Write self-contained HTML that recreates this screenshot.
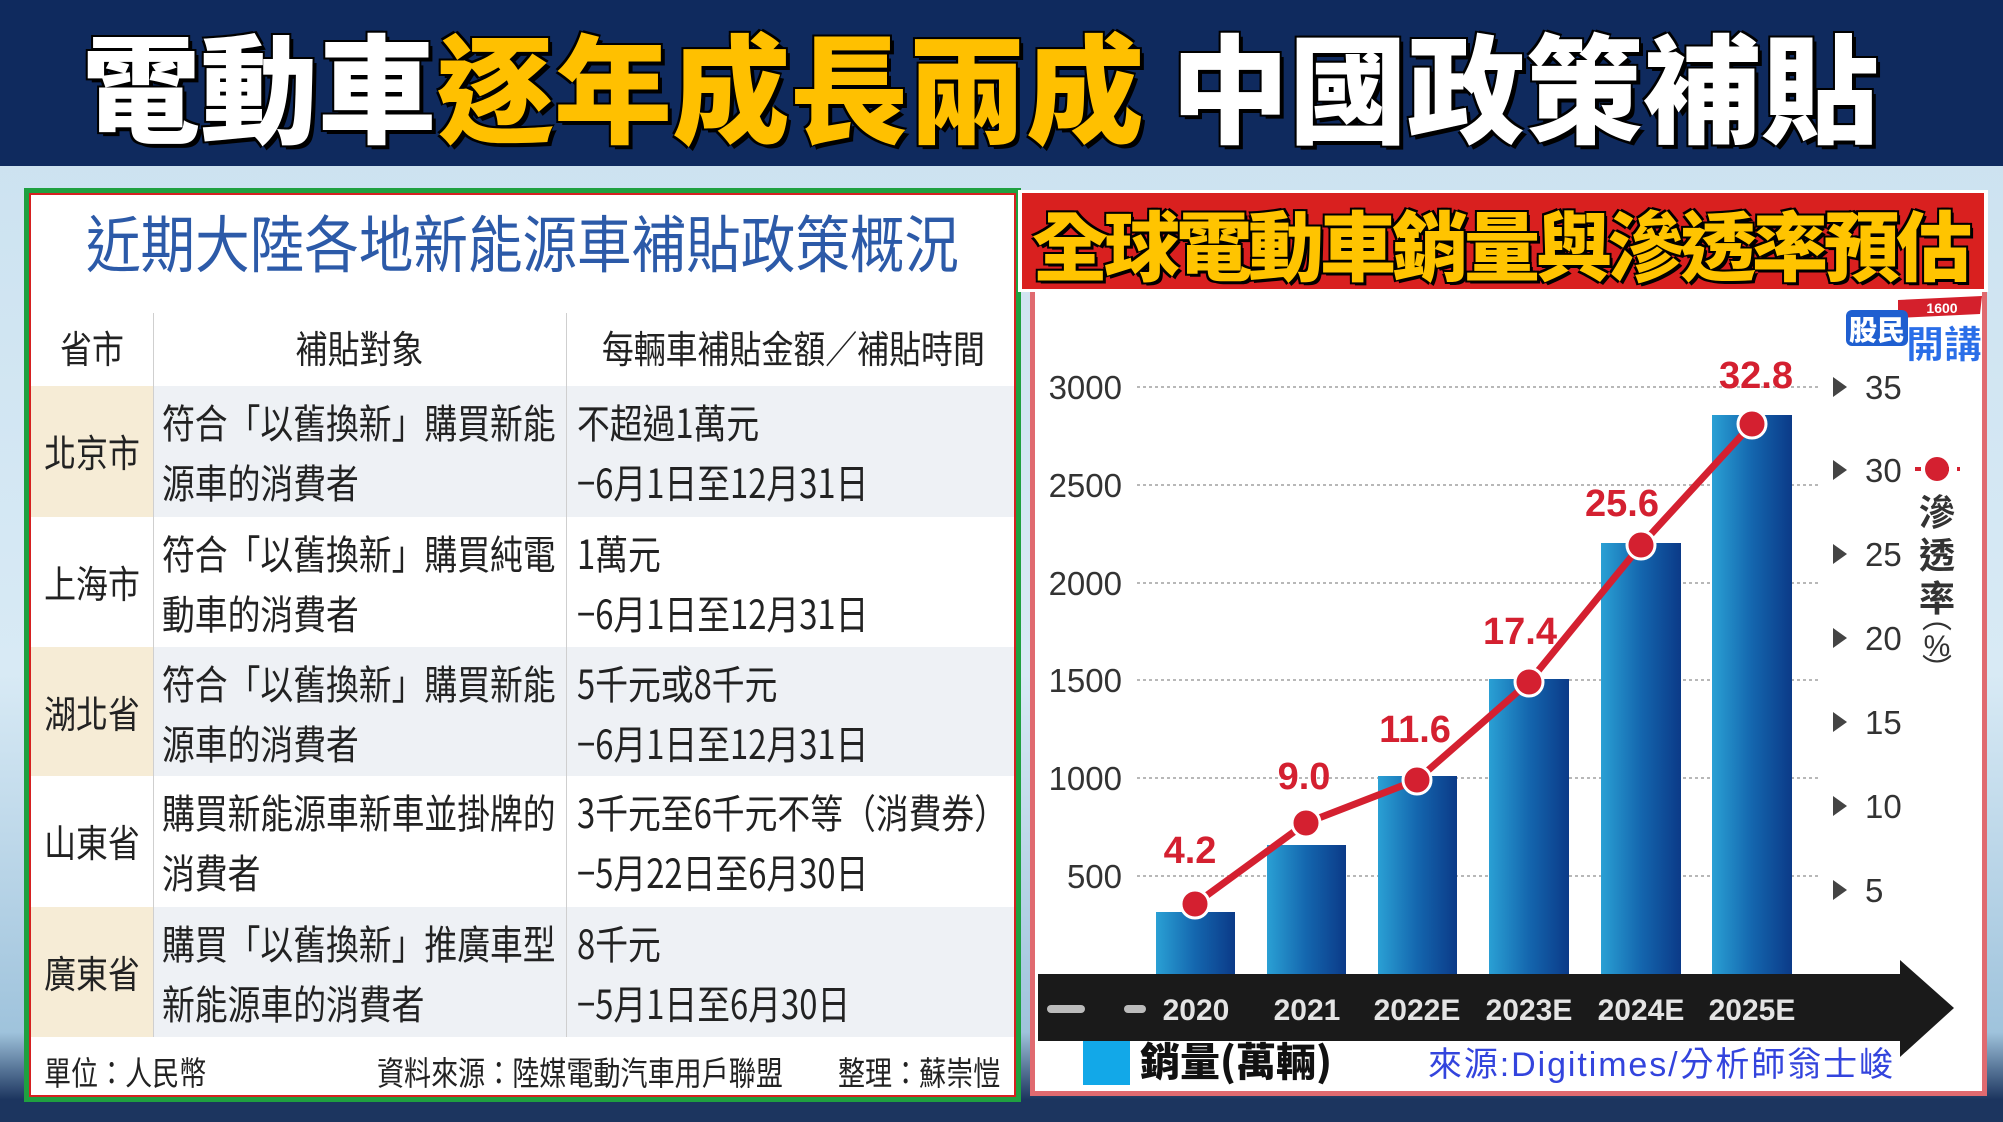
<!DOCTYPE html>
<html><head><meta charset="utf-8">
<style>
*{margin:0;padding:0;box-sizing:border-box}
body{width:2003px;height:1122px;overflow:hidden;position:relative;font-family:"Liberation Sans","Noto Sans CJK TC",sans-serif;background:linear-gradient(180deg,#c9e0ef 0%,#d8eaf5 60%,#9fc3dc 92%,#1c355f 98%);}
.a{position:absolute;white-space:nowrap}
.t{font-family:"Noto Sans CJK TC",sans-serif;color:#222;font-size:40px;line-height:40px;transform:scaleX(0.82);transform-origin:left center}
.c{font-family:"Noto Sans CJK TC",sans-serif;color:#222;font-size:38px;line-height:40px;transform:scaleX(0.84);transform-origin:center center;text-align:center}
</style></head><body>
<div class="a" style="left:0;top:0;width:2003px;height:166px;background:#0f2a5e"></div>
<div class="a" style="left:82px;top:8px;height:150px;font-family:'Noto Sans CJK TC',sans-serif;font-weight:900;font-size:118px;line-height:150px;letter-spacing:0px;text-shadow:4px 4px 0 #000,-2px -2px 0 #000,2px -2px 0 #000,-2px 2px 0 #000">
<span style="color:#fff">電動車</span><span style="color:#ffc000">逐年成長兩成</span><span style="color:#fff">&nbsp;中國政策補貼</span></div>

<div class="a" style="left:24px;top:188px;width:997px;height:914px;border:5px solid #1fa040;background:#fff"></div>
<div class="a" style="left:29px;top:193px;width:987px;height:904px;border:2px solid #d62020;background:#fff"></div>
<div class="a" style="left:86px;top:208px;font-family:'Noto Sans CJK TC',sans-serif;font-size:62px;line-height:64px;color:#2c5aa8;transform:scaleX(0.88);transform-origin:left center">近期大陸各地新能源車補貼政策概況</div>
<div class="a" style="left:31px;top:386px;width:983px;height:131px;background:#eef1f5"></div>
<div class="a" style="left:31px;top:647px;width:983px;height:129px;background:#eef1f5"></div>
<div class="a" style="left:31px;top:907px;width:983px;height:130px;background:#eef1f5"></div>
<div class="a" style="left:31px;top:386px;width:122px;height:131px;background:#f6ecd6"></div>
<div class="a" style="left:31px;top:647px;width:122px;height:129px;background:#f6ecd6"></div>
<div class="a" style="left:31px;top:907px;width:122px;height:130px;background:#f6ecd6"></div>
<div class="a" style="left:153px;top:313px;width:1px;height:724px;background:#cfcfcf"></div>
<div class="a" style="left:566px;top:313px;width:1px;height:724px;background:#cfcfcf"></div>
<div class="a c" style="left:31px;top:327px;width:122px">省市</div>
<div class="a c" style="left:153px;top:327px;width:413px">補貼對象</div>
<div class="a c" style="left:566px;top:327px;width:448px">每輛車補貼金額／補貼時間</div>

<div class="a c" style="left:31px;top:431px;width:122px">北京市</div>
<div class="a t" style="left:162px;top:401px">符合「以舊換新」購買新能</div>
<div class="a t" style="left:162px;top:461px">源車的消費者</div>
<div class="a t" style="left:577px;top:401px">不超過1萬元</div>
<div class="a t" style="left:577px;top:461px">−6月1日至12月31日</div>

<div class="a c" style="left:31px;top:562px;width:122px">上海市</div>
<div class="a t" style="left:162px;top:532px">符合「以舊換新」購買純電</div>
<div class="a t" style="left:162px;top:592px">動車的消費者</div>
<div class="a t" style="left:577px;top:532px">1萬元</div>
<div class="a t" style="left:577px;top:592px">−6月1日至12月31日</div>

<div class="a c" style="left:31px;top:692px;width:122px">湖北省</div>
<div class="a t" style="left:162px;top:662px">符合「以舊換新」購買新能</div>
<div class="a t" style="left:162px;top:722px">源車的消費者</div>
<div class="a t" style="left:577px;top:662px">5千元或8千元</div>
<div class="a t" style="left:577px;top:722px">−6月1日至12月31日</div>

<div class="a c" style="left:31px;top:821px;width:122px">山東省</div>
<div class="a t" style="left:162px;top:791px">購買新能源車新車並掛牌的</div>
<div class="a t" style="left:162px;top:851px">消費者</div>
<div class="a t" style="left:577px;top:791px">3千元至6千元不等（消費券）</div>
<div class="a t" style="left:577px;top:851px">−5月22日至6月30日</div>

<div class="a c" style="left:31px;top:952px;width:122px">廣東省</div>
<div class="a t" style="left:162px;top:922px">購買「以舊換新」推廣車型</div>
<div class="a t" style="left:162px;top:982px">新能源車的消費者</div>
<div class="a t" style="left:577px;top:922px">8千元</div>
<div class="a t" style="left:577px;top:982px">−5月1日至6月30日</div>
<div class="a t" style="left:44px;top:1054px;font-size:33px;line-height:34px">單位：人民幣</div>
<div class="a t" style="left:377px;top:1054px;font-size:33px;line-height:34px">資料來源：陸媒電動汽車用戶聯盟</div>
<div class="a t" style="left:838px;top:1054px;font-size:33px;line-height:34px">整理：蘇崇愷</div>

<div class="a" style="left:1030px;top:192px;width:957px;height:904px;border:5px solid #e06a70;background:#fff"></div>
<div class="a" style="left:1018px;top:190px;width:970px;height:102px;background:#fff"></div>
<div class="a" style="left:1022px;top:193px;width:962px;height:96px;background:#d9201f"></div>
<div class="a" style="left:1032px;top:200px;font-family:'Noto Sans CJK TC',sans-serif;font-weight:900;font-size:76px;line-height:84px;letter-spacing:-4px;color:#ffc400;text-shadow:3px 3px 0 #000,-2px -2px 0 #000,2px -2px 0 #000,-2px 2px 0 #000">全球電動車銷量與滲透率預估</div>

<svg class="a" style="left:0;top:0" width="2003" height="1122">
<defs>
<linearGradient id="bg" x1="0" x2="1" y1="0" y2="0"><stop offset="0" stop-color="#2aa0d4"/><stop offset="0.5" stop-color="#1466ae"/><stop offset="1" stop-color="#0b3a88"/></linearGradient>
</defs>
<!-- logo -->
<polygon points="1898,300 1982,296 1980,314 1898,318" fill="#d4202c"/>
<text x="1942" y="313" font-size="14" font-weight="bold" fill="#fff" text-anchor="middle" font-family="Liberation Sans">1600</text>
<rect x="1846" y="310" width="62" height="36" rx="6" fill="#1f5fd0"/>
<text x="1877" y="340" font-size="28" font-weight="900" fill="#fff" text-anchor="middle" font-family="Noto Sans CJK TC">股民</text>
<text x="1944" y="358" font-size="38" font-weight="900" fill="#2a6ee8" stroke="#fff" stroke-width="1" text-anchor="middle" font-family="Noto Sans CJK TC">開講</text>
<g stroke="#b8b8b8" stroke-width="2" stroke-dasharray="3,3">
<line x1="1137" x2="1820" y1="387" y2="387"/><line x1="1137" x2="1820" y1="485" y2="485"/>
<line x1="1137" x2="1820" y1="583" y2="583"/><line x1="1137" x2="1820" y1="680" y2="680"/>
<line x1="1137" x2="1820" y1="778" y2="778"/><line x1="1137" x2="1820" y1="876" y2="876"/>
</g>
<g font-family="Liberation Sans" font-size="33" fill="#333" text-anchor="end">
<text x="1122" y="399">3000</text><text x="1122" y="497">2500</text><text x="1122" y="595">2000</text>
<text x="1122" y="692">1500</text><text x="1122" y="790">1000</text><text x="1122" y="888">500</text>
</g>
<g fill="#444">
<polygon points="1833,377 1847,387 1833,397"/><polygon points="1833,460 1847,470 1833,480"/>
<polygon points="1833,544 1847,554 1833,564"/><polygon points="1833,628 1847,638 1833,648"/>
<polygon points="1833,712 1847,722 1833,732"/><polygon points="1833,796 1847,806 1833,816"/>
<polygon points="1833,880 1847,890 1833,900"/>
</g>
<g font-family="Liberation Sans" font-size="33" fill="#333">
<text x="1865" y="399">35</text><text x="1865" y="482">30</text><text x="1865" y="566">25</text>
<text x="1865" y="650">20</text><text x="1865" y="734">15</text><text x="1865" y="818">10</text>
<text x="1865" y="902">5</text>
</g>
<line x1="1915" x2="1960" y1="469" y2="469" stroke="#d42030" stroke-width="4" stroke-dasharray="6,8"/>
<circle cx="1937" cy="469" r="12" fill="#d42030"/>
<g font-family="Noto Sans CJK TC" font-weight="bold" font-size="36" fill="#333" text-anchor="middle">
<text x="1937" y="525">滲</text><text x="1937" y="568">透</text><text x="1937" y="611">率</text>
</g>
<text x="1937" y="628" font-family="Noto Sans CJK TC" font-size="30" fill="#333" text-anchor="middle">︵</text>
<text x="1937" y="656" font-family="Liberation Sans" font-size="30" fill="#333" text-anchor="middle">%</text>
<text x="1937" y="680" font-family="Noto Sans CJK TC" font-size="30" fill="#333" text-anchor="middle">︶</text>
<rect x="1156" y="912" width="79" height="62" fill="url(#bg)"/>
<rect x="1267" y="845" width="79" height="129" fill="url(#bg)"/>
<rect x="1378" y="776" width="79" height="198" fill="url(#bg)"/>
<rect x="1489" y="679" width="80" height="295" fill="url(#bg)"/>
<rect x="1601" y="543" width="80" height="431" fill="url(#bg)"/>
<rect x="1712" y="415" width="80" height="559" fill="url(#bg)"/>
<rect x="1038" y="974" width="866" height="67" fill="#1a1a1a"/>
<polygon points="1900,960 1954,1008 1900,1057" fill="#1a1a1a"/>
<rect x="1047" y="1005" width="38" height="8" rx="4" fill="#bbb"/>
<rect x="1124" y="1005" width="22" height="8" rx="4" fill="#bbb"/>
<g font-family="Liberation Sans" font-weight="bold" font-size="30" fill="#e4e4e4" text-anchor="middle">
<text x="1196" y="1020">2020</text><text x="1307" y="1020">2021</text><text x="1417" y="1020">2022E</text>
<text x="1529" y="1020">2023E</text><text x="1641" y="1020">2024E</text><text x="1752" y="1020">2025E</text>
</g>
<polyline points="1195,904 1306,823 1417,780 1529,682 1641,545 1752,424" fill="none" stroke="#d42030" stroke-width="7"/>
<g fill="#d42030" stroke="#fff" stroke-width="3">
<circle cx="1195" cy="904" r="14"/><circle cx="1306" cy="823" r="14"/><circle cx="1417" cy="780" r="14"/>
<circle cx="1529" cy="682" r="14"/><circle cx="1641" cy="545" r="14"/><circle cx="1752" cy="424" r="14"/>
</g>
<g font-family="Liberation Sans" font-weight="bold" font-size="38" fill="#d42030" text-anchor="middle">
<text x="1190" y="863">4.2</text><text x="1304" y="789">9.0</text><text x="1415" y="742">11.6</text>
<text x="1520" y="644">17.4</text><text x="1622" y="516">25.6</text><text x="1756" y="388">32.8</text>
</g>
<rect x="1083" y="1041" width="47" height="44" fill="#12a8e8"/>
<text x="1140" y="1076" font-family="Noto Sans CJK TC" font-weight="900" font-size="40" fill="#111">銷量(萬輛)</text>
<text x="1428" y="1076" font-family="Liberation Sans,Noto Sans CJK TC" font-size="34" fill="#3344dd" textLength="465">來源:Digitimes/分析師翁士峻</text>
</svg>
</body></html>
